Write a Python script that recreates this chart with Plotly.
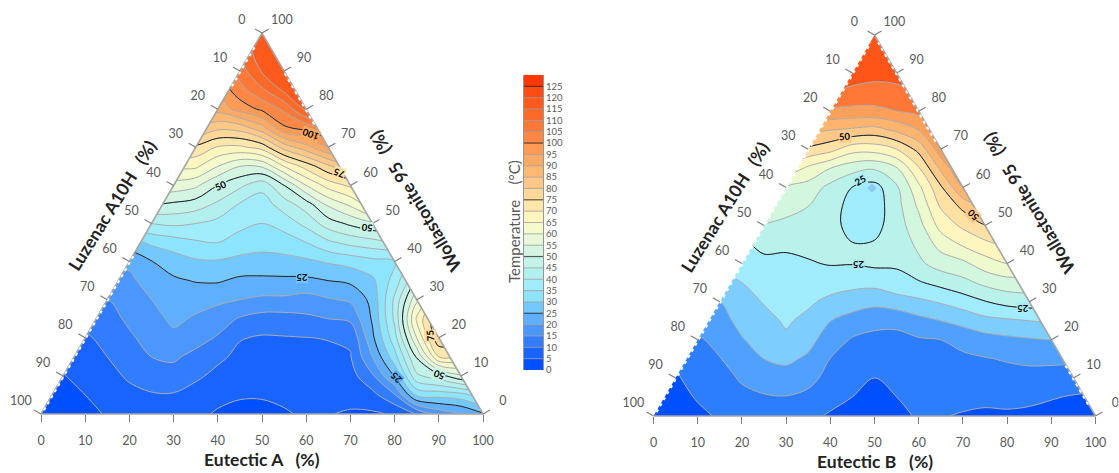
import plotly.graph_objects as go

W_PX, H_PX = 1119, 473
FONT = "Lato"
GREY_TXT = "#5a5a5a"

# grid positions (base coordinate, wollastonite %)
x_grid = list(range(0, 105, 5))
w_grid = list(range(0, 105, 5))
ticks = list(range(0, 110, 10))

# Panel A: temperature by base-coordinate column; each column lists W = 0, 5, ... 100
panel_a_cols = [
 [2,3,4,5,8,12,17,21,27,38,48,58,66,75,85,95,105,110,113,115,117],
 [3,4,4.8,6,8,12,17,21,27,38,48,58,66,75,85,95,105,110,113,115,117],
 [4,5,6.3,7.5,9.2,12,17,21,27,38,48,58,66,75,85,95,105,110,113,115,117],
 [5.3,7,8.5,10,11.6,13.2,14.8,18,21,27,38,48,58,66,75,85,95,105,110,113,115],
 [7,8.7,10.7,12.5,14.3,15.9,17,19,21,28,38,48,58,66,75,85,95,105,110,113,115],
 [7,9.5,12.8,15,16.7,18.3,20,22,24.8,31,40,50,58,66,75,85,95,105,110,113,115],
 [7,9.6,13,15.8,18.9,21,22.5,24.2,27.5,32.5,41,49,58,66,75,85,95,105,110,113,115],
 [6,8,10.9,13.5,17,19.4,21.8,25.3,29.3,34.3,40,47.5,56,66,74,85,95,105,110,113,115],
 [4.5,6.2,8.7,11,14.5,17.5,21,25.5,29.5,35,38.5,44,50,60,69.5,81,92,96,100,105,110],
 [3.5,5.5,7.2,8.8,10.3,14.5,20,24,28.5,33,36.3,39.5,46,55,69,82,97,103,107.5,110,112],
 [3.7,5.4,6.7,8,9.5,13,19,24,28,32,35,37.4,41.7,55.6,72,88,101,109,115.5,119,119.5],
 [4.5,6,7.3,8.5,9.7,13,19,24,28.5,32.5,37,42.5,50,65,82,99,106,116,119,119.5,119.5],
 [5.7,6.5,7.5,8.7,9.9,14,18,24,29,35,41.5,47.5,60,72,88,101.5,116,119,119.5,119.5,119.5],
 [5.2,7,8,9,10.2,15,19.5,25,30.5,39,47.5,56,67,79,95,105,118,119,119.5,119.5,119.5],
 [4.5,6.5,8,9.7,10.7,16,20.8,26,31.8,41.5,51,61,71,85,95,105,118,119,119.5,119.5,119.5],
 [4.3,8.5,14.3,20,24,25.7,26.5,29,33.5,43,54,68,80,92,102,110,118,119,119.5,119.5,119.5],
 [5.5,14.5,25.5,33,38,41,41,37,34.7,45,54,68,80,92,102,110,118,119,119.5,119.5,119.5],
 [10.3,31,44,50.5,60,66,59,50,45,45,54,68,80,92,102,110,118,119,119.5,119.5,119.5],
 [16.5,32,48,70,79,80,70,55,45,45,54,68,80,92,102,110,118,119,119.5,119.5,119.5],
 [19.5,33,54,70,78,80,70,55,45,45,54,68,80,92,102,110,118,119,119.5,119.5,119.5],
 [24.5,38,55,70,78,80,70,55,45,45,54,68,80,92,102,110,118,119,119.5,119.5,119.5],
]

# Panel B
panel_b_cols = [
 [1,2,3,4,6,10,15,20,25,30,36,40,44,50,56,65,70,72,73,74,75],
 [2.5,3.5,4.5,5.5,7,10,15,20,25,30,36,40,44,50,56,65,70,72,73,74,75],
 [4,5.4,6.6,7.7,9.3,12,15,20,25,30,36,40,44,50,56,65,70,72,73,74,75],
 [5.5,7,8.2,9.8,11.5,13.3,15,18,22,28,36,40,44,50,56,65,70,72,73,74,75],
 [7,8.8,10.6,12.7,14.7,16.4,18.2,20,22,24.4,36,40,44,50,56,65,70,72,73,74,75],
 [7.5,9.5,12.5,15,16.8,18.6,20.3,22,24,26,29.5,36,40,47,56,65,70,72,73,74,75],
 [7.5,9.8,13,16,19.2,20.6,21.4,22.4,23.9,25.8,28.7,31.8,34.7,44,50,58,67,72,73,74,75],
 [6,8.7,11.7,14.2,16.6,18.8,20.8,22.9,24.6,26.2,27.8,30,33,38.8,49,56,65,70,72,74,75],
 [4.5,6.4,8.2,9.9,12.5,15.1,18.8,22.2,25.3,26,26.5,26.8,28.5,35,46.7,55,64,70,72,74,75],
 [3.5,5,6.7,8.2,9.5,13,17.5,21.5,25.2,25.2,23.5,23.5,24.9,31.8,42,54,63.5,69,72,74,75],
 [3.5,4.3,5,7,8.9,11.2,16.5,21.5,26,25.5,23.3,22.3,23,30.5,42,53,63.7,68.2,71.5,73,74],
 [4,5,6.2,7.3,8.9,11,18,23,25.8,27,27.7,28.2,29.2,34.5,45,56,65,68.5,72,73,74],
 [5.4,6.1,7,8.2,9.5,13.5,19,24.5,29,31,33.2,35.8,38.8,44.5,51.5,60,66.5,70,72,73,74],
 [5.2,6.2,7.2,8.4,10,15,20.5,26.5,32.2,36.8,41.8,45.5,49.3,56,63,68,70,72,73,74,74],
 [4.7,6,7.6,8.9,11.8,16.5,22.5,28.5,33.8,40.6,46,51.2,60,66,68,70,72,73,74,74,74],
 [4.3,5.9,8,9.7,13,18.5,24.8,31.2,37.6,43.5,49.8,56,62,66,68,70,72,73,74,74,74],
 [4.5,5.9,8.2,10.4,13.9,19.2,26.7,32.9,40,46,50,56,62,66,68,70,72,73,74,74,74],
 [4,6,8.3,11,14.5,20,27.5,33,40,46,50,56,62,66,68,70,72,73,74,74,74],
 [3.5,5.3,8.1,11,15,20.5,27.5,33,40,46,50,56,62,66,68,70,72,73,74,74,74],
 [3,4.7,7.5,11,15,20.5,27.5,33,40,46,50,56,62,66,68,70,72,73,74,74,74],
 [2.5,4.2,7.3,11,15,20.5,27.5,33,40,46,50,56,62,66,68,70,72,73,74,74,74],
]

# Colour bands, low to high
colors_a = ["rgb(0,80,255)","rgb(25,100,255)","rgb(50,125,255)","rgb(75,150,255)","rgb(95,175,255)",
 "rgb(115,200,255)","rgb(140,228,255)","rgb(160,236,250)","rgb(178,240,240)","rgb(195,243,232)",
 "rgb(212,245,225)","rgb(230,248,215)","rgb(245,250,205)","rgb(255,245,190)","rgb(255,230,170)",
 "rgb(255,215,150)","rgb(255,200,135)","rgb(255,185,115)","rgb(255,170,100)","rgb(255,155,85)",
 "rgb(255,135,70)","rgb(255,120,55)","rgb(255,105,40)","rgb(255,90,30)","rgb(255,75,20)","rgb(255,55,0)"]
colors_b = ["rgb(0,80,255)","rgb(45,125,255)","rgb(80,160,255)","rgb(125,205,255)","rgb(160,235,252)",
 "rgb(185,242,235)","rgb(210,246,222)","rgb(238,250,205)","rgb(255,245,190)","rgb(255,225,165)",
 "rgb(255,200,135)","rgb(255,180,110)","rgb(255,160,90)","rgb(255,120,55)","rgb(255,85,25)"]

bar_levels = list(range(0, 130, 5))
bar_centres = [v + 2.5 for v in bar_levels]

titles_a = ["Eutectic A   (%)", "Luzenac A10H   (%)", "Wollastonite 95   (%)"]
titles_b = ["Eutectic B   (%)", "Luzenac A10H   (%)", "Wollastonite 95   (%)"]

# contour labels: text, base coordinate, W, angle, background
labels_a = [("100",61.1,73.5,200,"rgb(255,170,100)"),("75",67.5,63.3,200,"rgb(255,225,165)"),
 ("50",40.8,60,-25,"rgb(200,243,230)"),("50",73.6,48.8,185,"rgb(200,243,230)"),
 ("25",59,36,180,"rgb(115,200,255)"),("25",80.3,9.6,225,"rgb(95,175,255)"),
 ("50",90,10.2,200,"rgb(200,243,230)"),("75",88,20.7,-95,"rgb(255,220,160)")]
labels_b = [("50",43.3,73.3,-5,"rgb(255,205,140)"),("25",46.8,61.7,-30,"rgb(170,238,245)"),
 ("50",72.4,52.8,225,"rgb(255,200,135)"),("25",46.5,39.6,180,"rgb(170,238,245)"),
 ("25",83.5,28.4,180,"rgb(170,238,245)")]
spot_b = ([49.4], [59.8])

# scalloped stretches of the triangle edge: side, W from, W to
teeth_a = [("L", 1, 42), ("L", 86, 97), ("R", 76, 90)]
teeth_b = [("L", 1, 98), ("R", 72, 98), ("R", 3, 14)]

X_LOW = -9
W_LOW, W_HIGH = -8, 108
EDGE = "rgb(165,165,165)"
TICK = "rgb(125,125,125)"


def stepped(cols):
    n = len(cols)
    out = []
    for i, c in enumerate(cols):
        out += [[i / n, c], [(i + 1) / n, c]]
    return out


def transpose(cols):
    return [list(r) for r in zip(*cols)]


def panel(fig, cols, colors, xa, ya, x0, x1, ybase, ytop, titles, labels, teeth, left_edge):
    sx = (x1 - x0) / 100.0
    sy = (ybase - ytop) / 100.0
    z = transpose(cols)
    n = len(colors)
    fig.add_trace(go.Contour(x=x_grid, y=w_grid, z=z, xaxis=xa, yaxis=ya, zmin=0, zmax=5 * n, autocontour=False,
        colorscale=stepped(colors), showscale=False, hoverinfo="skip",
        contours=dict(start=5, end=5 * (n - 1), size=5, coloring="fill"),
        line=dict(color="rgb(172,172,172)", width=1, smoothing=1)))
    fig.add_trace(go.Contour(x=x_grid, y=w_grid, z=z, xaxis=xa, yaxis=ya, autocontour=False, showscale=False,
        hoverinfo="skip", contours=dict(start=25, end=125, size=25, coloring="none"),
        line=dict(color="rgb(25,35,40)", width=1, smoothing=1)))
    # white outside the triangle
    for px_, py_ in (([0, 50, 50, -2, -2, 0], [0, 100, 102, 102, 0, 0]),
                     ([100, 50, 50, 102, 102, 100], [0, 100, 102, 102, 0, 0]),
                     ([-2, 102, 102, -2, -2], [-2, -2, 0, 0, -2])):
        fig.add_trace(go.Scatter(x=px_, y=py_, xaxis=xa, yaxis=ya, mode="lines", fill="toself",
            fillcolor="white", line=dict(width=0), hoverinfo="skip", showlegend=False))
    # triangle sides
    ex_ = [0, 50, 100, 0] if left_edge else [50, 100, 0]
    ey_ = [0, 100, 0, 0] if left_edge else [100, 0, 0]
    fig.add_trace(go.Scatter(x=ex_, y=ey_, xaxis=xa, yaxis=ya, mode="lines",
        line=dict(color=EDGE, width=1.6), hoverinfo="skip", showlegend=False))
    # scalloped edge
    for side, w_a, w_b in teeth:
        if side == "L":
            tx = [w_a / 2.0 + 0.2, w_b / 2.0 + 0.2]
        else:
            tx = [100 - w_a / 2.0 - 0.2, 100 - w_b / 2.0 - 0.2]
        fig.add_trace(go.Scatter(x=tx, y=[w_a, w_b], xaxis=xa, yaxis=ya, mode="lines",
            line=dict(color="white", width=2, dash="3px,4px"), hoverinfo="skip", showlegend=False))
    # ticks on the sides
    lx, ly, rx, ry, ltx, lty, rtx, rty, ltxt, rtxt = [], [], [], [], [], [], [], [], [], []
    for t in ticks:
        wl = 100 - t
        ex = wl / 2.0
        lx += [ex, ex - 7 / sx, None]
        ly += [wl, wl + 4 / sy, None]
        ltx.append(ex - 20 / sx)
        lty.append(wl + 12 / sy)
        ltxt.append(str(t))
        wr = t
        ex = 100 - wr / 2.0
        rx += [ex, ex + 7 / sx, None]
        ry += [wr, wr + 4 / sy, None]
        rtx.append(ex + 20 / sx)
        rty.append(wr + 12 / sy)
        rtxt.append(str(t))
    fig.add_trace(go.Scatter(x=lx + rx, y=ly + ry, xaxis=xa, yaxis=ya, mode="lines",
        line=dict(color=TICK, width=1.1), hoverinfo="skip", showlegend=False))
    fig.add_trace(go.Scatter(x=ltx + rtx, y=lty + rty, text=ltxt + rtxt, xaxis=xa, yaxis=ya, mode="text",
        textfont=dict(family=FONT, size=12.5, color=GREY_TXT), hoverinfo="skip", showlegend=False))
    for txt, lxv, lyv, ang, bg in labels:
        fig.add_annotation(xref=xa, yref=ya, x=lxv, y=lyv, text="<b>%s</b>" % txt, textangle=ang, showarrow=False,
            bgcolor=bg, borderpad=0, font=dict(family=FONT, size=9.5, color="black"))
    # axis titles
    cx = (x0 + x1) / 2.0
    title_font = dict(family=FONT, size=17.5, color="#222")
    fig.add_annotation(xref="paper", yref="paper", x=cx / W_PX, y=1 - (ybase + 45) / H_PX, text="<b>%s</b>" % titles[0],
        xanchor="center", yanchor="middle", showarrow=False, font=title_font)
    fig.add_annotation(xref="paper", yref="paper", x=(x0 + 71) / W_PX, y=1 - (ybase - 209) / H_PX, text="<b>%s</b>" % titles[1],
        xanchor="center", yanchor="middle", textangle=-58, showarrow=False, font=title_font)
    fig.add_annotation(xref="paper", yref="paper", x=(x1 - 67) / W_PX, y=1 - (ybase - 213) / H_PX, text="<b>%s</b>" % titles[2],
        xanchor="center", yanchor="middle", textangle=-121, showarrow=False, font=title_font)


fig = go.Figure()
panel(fig, panel_a_cols, colors_a, "x", "y", 41, 483, 414, 33, titles_a, labels_a, teeth_a, True)
panel(fig, panel_b_cols, colors_b, "x2", "y2", 653.5, 1095.5, 416, 35, titles_b, labels_b, teeth_b, False)

fig.add_trace(go.Scatter(x=spot_b[0], y=spot_b[1], xaxis="x2", yaxis="y2", mode="markers", hoverinfo="skip", showlegend=False,
    marker=dict(symbol="diamond", size=7, color="rgb(140,200,240)")))

# colour bar built on its own axes
fig.add_trace(go.Heatmap(x=[0, 1], y=bar_centres, z=[[v, v] for v in bar_centres], xaxis="x3", yaxis="y3", zmin=0, zmax=130,
    colorscale=stepped(colors_a), showscale=False, hoverinfo="skip"))
gx, gy, bx, by = [], [], [], []
for v in bar_levels[1:]:
    if v % 25 == 0:
        bx += [0, 1, None]
        by += [v, v, None]
    else:
        gx += [0, 1, None]
        gy += [v, v, None]
fig.add_trace(go.Scatter(x=gx, y=gy, xaxis="x3", yaxis="y3", mode="lines", line=dict(color="rgba(160,160,160,0.8)", width=1),
    hoverinfo="skip", showlegend=False))
fig.add_trace(go.Scatter(x=bx, y=by, xaxis="x3", yaxis="y3", mode="lines", line=dict(color="rgba(40,40,40,0.75)", width=1.2),
    hoverinfo="skip", showlegend=False))
fig.add_annotation(xref="paper", yref="paper", x=514 / W_PX, y=1 - 222 / H_PX, text="Temperature    (°C)", textangle=-90,
    xanchor="center", yanchor="middle", showarrow=False, font=dict(family=FONT, size=15, color=GREY_TXT))


def base_axis(x0, x1, xhigh, ybase):
    s = (x1 - x0) / 100.0
    return dict(range=[X_LOW, xhigh], domain=[(x0 + X_LOW * s) / W_PX, (x0 + xhigh * s) / W_PX], anchor="free",
        position=1 - ybase / H_PX, tickmode="array", tickvals=ticks, ticks="outside", ticklen=7, tickwidth=1.2,
        tickcolor=TICK, showgrid=False, zeroline=False, showline=False, automargin=False,
        tickfont=dict(family=FONT, size=12.5, color=GREY_TXT), ticklabelstandoff=8, fixedrange=True)


def side_axis(ybase, ytop):
    s = (ybase - ytop) / 100.0
    return dict(range=[W_LOW, W_HIGH], domain=[1 - (ybase - W_LOW * s) / H_PX, 1 - (ybase - W_HIGH * s) / H_PX],
        visible=False, fixedrange=True, automargin=False)


fig.update_layout(
    template="none",
    width=W_PX, height=H_PX, margin=dict(l=0, r=0, t=0, b=0), paper_bgcolor="white", plot_bgcolor="rgba(0,0,0,0)", showlegend=False,
    xaxis=base_axis(41, 483, 109, 414),
    yaxis=dict(side_axis(414, 33), anchor="x"),
    xaxis2=base_axis(653.5, 1095.5, 105.2, 416),
    yaxis2=dict(side_axis(416, 35), anchor="x2"),
    xaxis3=dict(range=[0, 1], visible=False, domain=[524 / W_PX, 543 / W_PX], anchor="y3", fixedrange=True, automargin=False),
    yaxis3=dict(range=[0, 130], domain=[1 - 370 / H_PX, 1 - 75 / H_PX], anchor="x3", side="right", tickmode="array",
        tickvals=bar_levels, ticks="", showgrid=False, zeroline=False, showline=True, linecolor="rgb(150,150,150)", mirror=True,
        tickfont=dict(family=FONT, size=9.5, color=GREY_TXT), fixedrange=True, automargin=False),
)

fig.write_html("out.html", config=dict(displayModeBar=False), post_script="document.body.style.margin='0';")
